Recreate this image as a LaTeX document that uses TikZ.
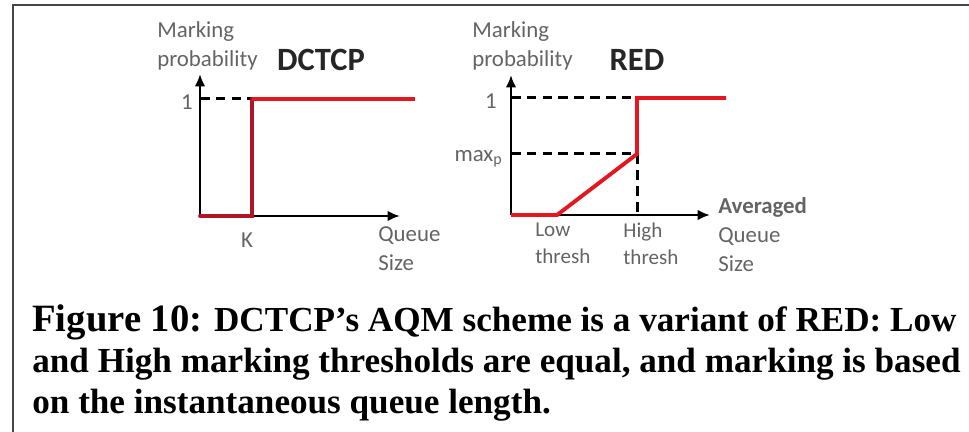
\documentclass[tikz,border=0pt]{standalone}
\usepackage{fontspec}
\setmainfont{Liberation Serif}
\newfontfamily\labelfont{Carlito}
\usetikzlibrary{arrows.meta}
\definecolor{labelgray}{RGB}{100,100,100}
\definecolor{markred}{RGB}{228,22,32}
\definecolor{stepred}{RGB}{175,22,38}
\definecolor{framegray}{RGB}{70,70,70}
\tikzset{
	axis/.style={line width=1.4pt, -{Latex[length=7pt,width=6pt]}},
	guide/.style={line width=1.7pt, dash pattern=on 5.5pt off 3.5pt},
	curve/.style={line width=2.2pt, markred},
	lbl/.style={inner sep=0pt, text=labelgray, font=\labelfont\fontsize{13}{16.5}\selectfont, align=left},
	title/.style={inner sep=0pt, text=black!85, font=\labelfont\bfseries\fontsize{18.5}{20}\selectfont}
}
\begin{document}
\begin{tikzpicture}
	\useasboundingbox (0,0) rectangle (19.38,8.64);
	\draw[framegray, line width=1.1pt] (0.26,0) -- (0.26,8.54) -- (19.38,8.54);

	% DCTCP
	\coordinate (dorig) at (4.00,4.32);
	\coordinate (dtop) at (4.00,7.16);
	\coordinate (dright) at (8.00,4.32);
	\coordinate (done) at (4.00,6.66);
	\coordinate (dk) at (5.04,4.32);
	\coordinate (dkone) at (5.04,6.66);
	\coordinate (dend) at (8.30,6.66);
	\draw[axis] (dorig) -- (dtop);
	\draw[axis] (dorig) -- (dright);
	\draw[guide] (done) -- (dkone);
	\draw[curve, stepred, line cap=round] (dorig) -- (dk) -- (dkone);
	\draw[curve] (dkone) -- (dend);
	\node[lbl, anchor=east] (donelbl) at (3.86,6.60) {1};
	\node[lbl] (dklbl) at (4.94,3.84) {K};
	\node[lbl, anchor=west] (dxlbl) at (7.56,3.67) {Queue\\Size};
	\node[lbl, anchor=west] (dylbl) at (3.14,7.72) {Marking\\probability};
	\node[title] (dtitle) at (6.42,7.44) {DCTCP};

	% RED
	\coordinate (rorig) at (10.22,4.34);
	\coordinate (rtop) at (10.22,7.14);
	\coordinate (rright) at (14.20,4.34);
	\coordinate (rone) at (10.22,6.68);
	\coordinate (rmax) at (10.22,5.56);
	\coordinate (rlow) at (11.14,4.34);
	\coordinate (rhigh) at (12.74,4.34);
	\coordinate (rhighmax) at (12.74,5.56);
	\coordinate (rhighone) at (12.74,6.68);
	\coordinate (rend) at (14.52,6.68);
	\draw[axis] (rorig) -- (rtop);
	\draw[axis] (rorig) -- (rright);
	\draw[guide] (rone) -- (rhighone);
	\draw[guide] (rmax) -- (rhighmax) -- (rhigh);
	\draw[curve] (rorig) -- (rlow) -- (rhighmax) -- (rhighone) -- (rend);
	\node[lbl, anchor=east] (ronelbl) at (9.94,6.62) {1};
	\node[lbl, anchor=east] (rmaxlbl) at (10.06,5.46) {max\textsubscript{p}};
	\node[lbl, anchor=west, font=\labelfont\fontsize{12}{15.3}\selectfont] (rlowlbl) at (10.70,3.77) {Low\\thresh};
	\node[lbl, anchor=west, font=\labelfont\fontsize{12}{15.3}\selectfont] (rhighlbl) at (12.46,3.77) {High\\thresh};
	\node[lbl, anchor=west] (rxlbl) at (14.36,3.94) {\textbf{Averaged}\\Queue\\Size};
	\node[lbl, anchor=west] (rylbl) at (9.44,7.72) {Marking\\probability};
	\node[title] (rtitle) at (12.74,7.44) {RED};

	\node[anchor=west, inner sep=0pt, align=left, font=\bfseries\fontsize{20}{23.3}\selectfont] (caption) at (0.64,1.38) {%
		{\fontsize{22}{23.3}\selectfont Figure 10:} DCTCP's AQM scheme is a variant of RED: Low\\
		and High marking thresholds are equal, and marking is based\\
		on the instantaneous queue length.};
\end{tikzpicture}
\end{document}
